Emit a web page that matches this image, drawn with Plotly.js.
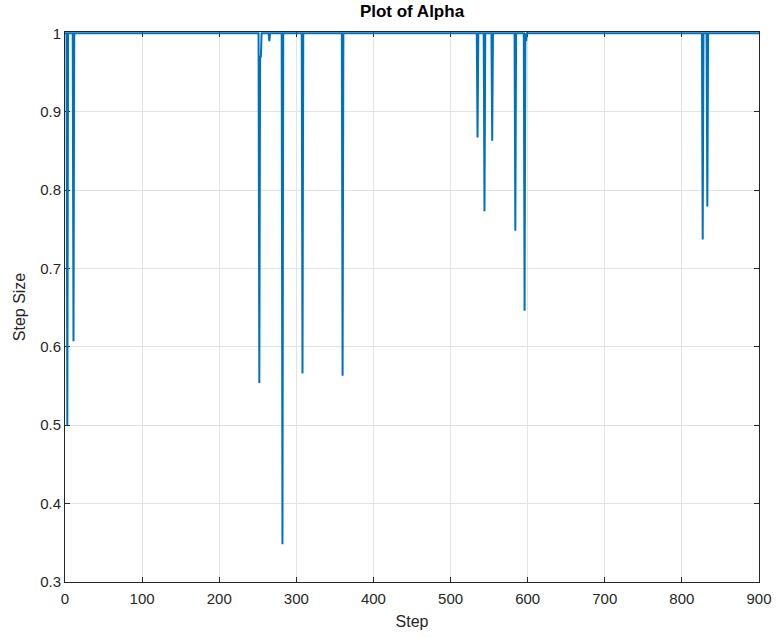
<!DOCTYPE html>
<html>
<head>
<meta charset="utf-8">
<script src="https://cdn.plot.ly/plotly-3.0.1.min.js"></script>
<style>html,body{margin:0;padding:0;background:#fff;}#chart{width:776px;height:638px;}</style>
</head>
<body>
<div id="chart"></div>
<script>
// Step indices around each dip of alpha (baseline is 1)
var steps = [0, 2, 3, 4, 10, 11, 12, 251, 252, 253, 254, 255, 264, 265, 266, 281, 282, 283,
             307, 308, 309, 359, 360, 361, 534, 535, 536, 543, 544, 545, 553, 554, 555,
             583, 584, 585, 595, 596, 597, 598, 599, 826, 827, 828, 832, 833, 834, 900];
var alpha = [1, 1, 0.5, 1, 1, 0.607, 1, 1, 0.554, 0.97, 0.97, 1, 1, 0.99, 1, 1, 0.348, 1,
             1, 0.566, 1, 1, 0.563, 1, 1, 0.867, 1, 1, 0.773, 1, 1, 0.863, 1,
             1, 0.748, 1, 1, 0.646, 1, 0.99, 1, 1, 0.737, 1, 1, 0.779, 1, 1];
var xTicks = [0, 100, 200, 300, 400, 500, 600, 700, 800, 900];
var yTicks = [0.3, 0.4, 0.5, 0.6, 0.7, 0.8, 0.9, 1];

var FONT = 'Liberation Sans, Arial, sans-serif';
var axisCommon = {
  showgrid: true, gridcolor: '#e3e3e3', gridwidth: 1,
  showline: true, linecolor: '#262626', linewidth: 1, mirror: 'allticks',
  ticks: 'inside', ticklen: 5, tickcolor: '#262626', tickwidth: 1,
  zeroline: false, layer: 'below traces',
  tickfont: {family: FONT, size: 15, color: '#262626'}
};

var trace = {
  x: steps, y: alpha, type: 'scatter', mode: 'lines',
  line: {color: '#0072BD', width: 2},
  hoverinfo: 'none'
};

var layout = {
  width: 776, height: 638,
  margin: {l: 65, r: 17, t: 32, b: 56},
  paper_bgcolor: '#ffffff', plot_bgcolor: '#ffffff',
  showlegend: false,
  title: {text: '<b>Plot of Alpha</b>', font: {family: FONT, size: 17, color: '#000'},
          x: 0.5, xanchor: 'center', y: 0.982, yanchor: 'middle', xref: 'paper'},
  xaxis: Object.assign({}, axisCommon, {
    range: [0, 900], tickvals: xTicks, ticktext: xTicks.map(String),
    ticklabelstandoff: 3, automargin: false,
    title: {text: 'Step', font: {family: FONT, size: 16, color: '#262626'}, standoff: 9}
  }),
  yaxis: Object.assign({}, axisCommon, {
    range: [0.3, 1.0016], tickvals: yTicks, ticktext: yTicks.map(String),
    automargin: false,
    title: {text: 'Step Size', font: {family: FONT, size: 16, color: '#262626'}, standoff: 10}
  })
};

Plotly.newPlot('chart', [trace], layout, {displayModeBar: false, staticPlot: true});
</script>
</body>
</html>
